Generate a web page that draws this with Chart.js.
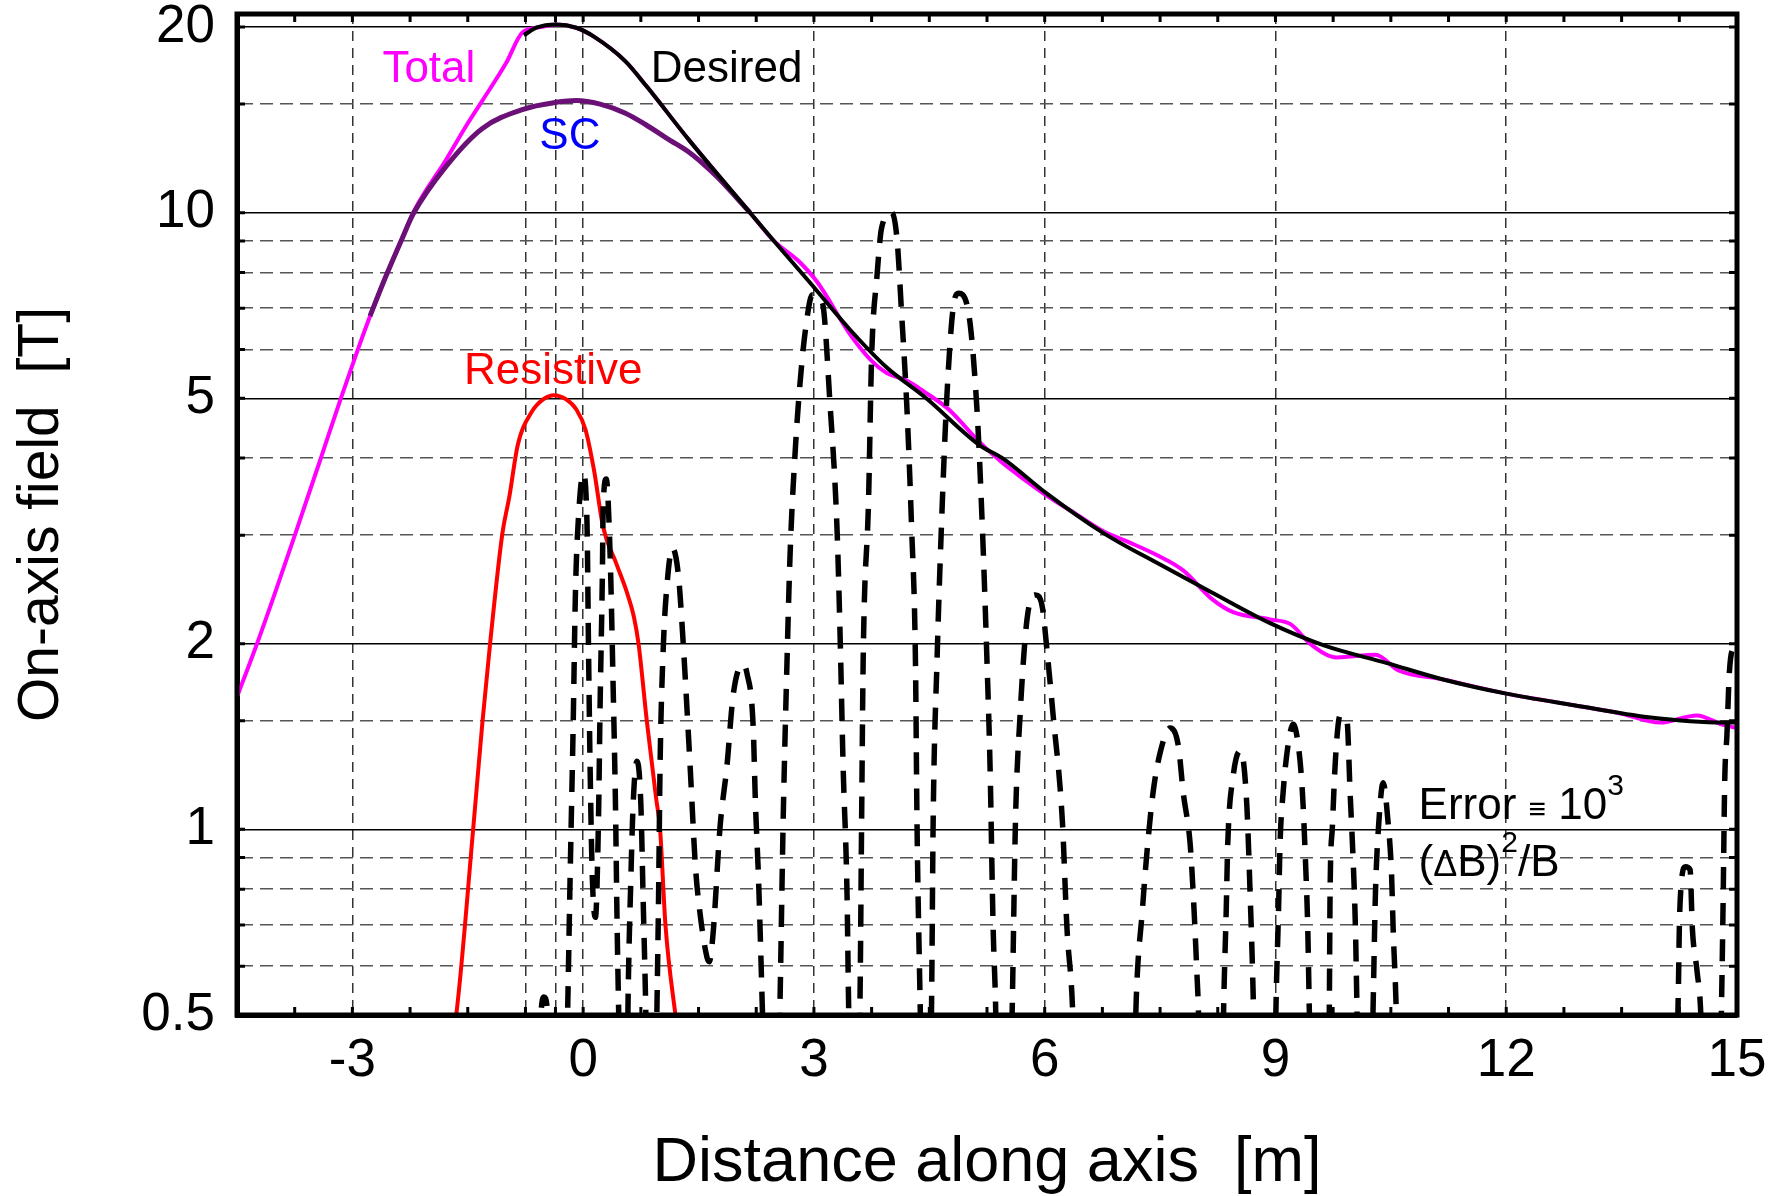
<!DOCTYPE html>
<html>
<head>
<meta charset="utf-8">
<script src="https://cdn.jsdelivr.net/npm/chart.js@4.4.1/dist/chart.umd.min.js"></script>
<style>
  html, body { margin: 0; padding: 0; background: #fff; }
  #wrap { width: 1786px; height: 1196px; }
</style>
</head>
<body>
<div id="wrap"><canvas id="cv" width="1786" height="1196"></canvas></div>
<script>
/* global Chart */
const FONT = "'Liberation Sans', Arial, sans-serif";

// Total field (magenta)
const totalX = [-4.5, -4.24, -4.0, -3.74, -3.41, -3.15, -2.96, -2.77, -2.59, -2.35, -2.21, -1.78, -1.51, -1.31, -1.0, -0.79, -0.55, -0.35, -0.09, 0.14, 0.55, 0.83, 1.38, 2.17, 2.48, 2.8, 3.05, 3.47, 3.75, 3.94, 4.2, 4.46, 4.75, 5.15, 5.45, 5.75, 6.02, 6.4, 6.77, 7.1, 7.47, 7.8, 8.18, 8.45, 8.93, 9.2, 9.45, 9.8, 10.3, 10.6, 11.18, 12.0, 12.88, 13.5, 14.0, 14.48, 14.8, 15.0];
const totalY = [1.64, 2.0, 2.43, 3.02, 4.0, 5.0, 5.85, 6.8, 7.75, 9.1, 10.0, 12.2, 13.9, 15.2, 17.5, 19.6, 20.0, 20.2, 19.95, 19.3, 17.6, 16.0, 13.1, 10.0, 9.0, 8.35, 7.7, 6.35, 5.75, 5.5, 5.35, 5.1, 4.8, 4.25, 3.93, 3.68, 3.48, 3.25, 3.04, 2.92, 2.78, 2.63, 2.36, 2.25, 2.19, 2.15, 2.0, 1.9, 1.92, 1.81, 1.75, 1.66, 1.59, 1.54, 1.49, 1.53, 1.48, 1.46];

// Superconducting contribution (purple)
const scX = [-2.77, -2.59, -2.35, -2.21, -1.78, -1.31, -0.79, -0.35, -0.09, 0.22, 0.55, 0.81, 1.13, 1.35, 1.56, 1.75, 2.17];
const scY = [6.8, 7.75, 9.1, 9.95, 11.9, 13.7, 14.7, 15.1, 15.2, 15.0, 14.5, 13.9, 13.1, 12.6, 12.0, 11.4, 10.0];

// Desired profile (black)
const desiredX = [-0.77, -0.61, -0.35, -0.09, 0.14, 0.55, 0.83, 1.38, 2.17, 2.48, 2.95, 3.47, 3.94, 4.46, 5.15, 5.45, 6.02, 6.77, 7.47, 8.18, 8.93, 9.62, 10.45, 11.18, 12.0, 12.88, 13.85, 14.82, 15.0];
const desiredY = [19.4, 19.95, 20.2, 19.95, 19.3, 17.6, 16.0, 13.1, 10.0, 9.0, 7.7, 6.46, 5.62, 5.0, 4.2, 4.0, 3.51, 3.02, 2.70, 2.42, 2.16, 1.99, 1.86, 1.75, 1.66, 1.59, 1.52, 1.49, 1.49];

// Resistive insert (red)
const resistiveX = [-1.72, -1.65, -1.43, -1.31, -1.21, -1.05, -0.96, -0.85, -0.67, -0.52, -0.38, -0.22, -0.09, 0.03, 0.14, 0.26, 0.43, 0.57, 0.66, 0.72, 0.83, 0.95, 1.0, 1.07, 1.2, 1.25];
const resistiveY = [0.45, 0.5, 1.0, 1.49, 2.0, 3.02, 3.46, 4.2, 4.75, 4.98, 5.06, 4.98, 4.8, 4.45, 3.83, 3.09, 2.70, 2.42, 2.21, 2.0, 1.49, 1.12, 1.0, 0.70, 0.5, 0.45];

// Error = 1e3 (dB)^2/B (black dashed)
const errorX = [
  -0.62, -0.55, -0.51, -0.46, -0.40,
  -0.24, -0.20, -0.17, -0.13, -0.10, -0.06, 0.0, 0.05, 0.07, 0.09, 0.12,
  0.16,
  0.20, 0.22, 0.25, 0.26, 0.30, 0.35, 0.39, 0.42, 0.44, 0.46, 0.50,
  0.56, 0.585, 0.62, 0.65, 0.70, 0.75, 0.78, 0.81, 0.85,
  0.93, 0.96, 0.98, 1.0, 1.04, 1.09, 1.16, 1.24, 1.30, 1.39, 1.46, 1.52, 1.61,
  1.64,
  1.69, 1.78, 1.87, 1.95, 2.07, 2.13, 2.21, 2.24, 2.28, 2.33, 2.38,
  2.52, 2.56, 2.60, 2.65, 2.69, 2.76, 2.82, 2.89, 2.98, 3.11, 3.21, 3.30, 3.34, 3.38, 3.43, 3.45, 3.49,
  3.56, 3.60, 3.62, 3.64, 3.71, 3.75, 3.82, 3.88, 4.01, 4.08, 4.14, 4.21, 4.27, 4.32, 4.34, 4.38, 4.42,
  4.50, 4.53, 4.55, 4.60, 4.67, 4.73, 4.81, 4.88, 5.0, 5.12, 5.19, 5.25, 5.29, 5.33, 5.36, 5.40,
  5.54, 5.58, 5.62, 5.68, 5.77, 5.88, 5.97, 6.03, 6.11, 6.23, 6.29, 6.36, 6.42,
  7.14, 7.19, 7.27, 7.33, 7.41, 7.50, 7.63, 7.74, 7.80, 7.89, 7.93, 7.98, 8.0, 8.03,
  8.29, 8.33, 8.36, 8.38, 8.45, 8.54, 8.58, 8.63, 8.67, 8.71, 8.75,
  8.97, 9.01, 9.04, 9.06, 9.10, 9.16, 9.23, 9.30, 9.35, 9.39, 9.42, 9.44, 9.48,
  9.66, 9.70, 9.71, 9.74, 9.78, 9.84, 9.93, 9.97, 10.01, 10.04, 10.06, 10.10,
  10.23, 10.27, 10.30, 10.34, 10.40, 10.46, 10.51, 10.53, 10.57, 10.61,
  14.18, 14.24, 14.25, 14.27, 14.33, 14.39, 14.42, 14.48, 14.53, 14.58,
  14.76, 14.80, 14.82, 14.84, 14.87, 14.90, 14.96, 15.0
];
const errorY = [
  0.3, 0.5, 0.535, 0.5, 0.3,
  0.3, 0.52, 0.83, 1.47, 2.43, 3.22, 3.77, 3.14, 1.95, 1.27, 0.83,
  0.72,
  1.05, 1.58, 2.60, 3.32, 3.70, 2.80, 1.70, 1.10, 0.72, 0.52, 0.3,
  0.3, 0.54, 0.83, 1.10, 1.29, 1.10, 0.77, 0.54, 0.3,
  0.3, 0.52, 0.77, 1.27, 1.95, 2.49, 2.86, 2.57, 2.01, 1.27, 0.87, 0.73, 0.62,
  0.61,
  0.68, 1.01, 1.27, 1.65, 1.85, 1.79, 1.47, 1.10, 0.83, 0.51, 0.3,
  0.3, 0.53, 1.03, 1.87, 2.79, 4.17, 5.30, 6.46, 7.36, 7.14, 4.88, 3.08, 2.07, 1.26, 0.79, 0.53, 0.3,
  0.3, 0.54, 1.03, 1.87, 3.41, 5.84, 7.90, 9.45, 10.0, 9.07, 6.86, 4.79, 3.08, 1.87, 1.03, 0.53, 0.3,
  0.3, 0.53, 1.03, 1.87, 3.41, 5.08, 7.01, 7.4, 7.0, 4.79, 3.08, 1.87, 1.26, 0.69, 0.53, 0.3,
  0.3, 0.53, 1.03, 1.53, 2.19, 2.40, 2.29, 1.95, 1.53, 1.03, 0.69, 0.52, 0.3,
  0.3, 0.53, 0.74, 0.92, 1.15, 1.33, 1.46, 1.36, 1.15, 0.95, 0.79, 0.58, 0.5, 0.3,
  0.3, 0.54, 0.74, 0.95, 1.22, 1.34, 1.30, 1.08, 0.79, 0.54, 0.3,
  0.3, 0.54, 0.74, 0.95, 1.15, 1.36, 1.48, 1.36, 1.15, 0.89, 0.69, 0.51, 0.3,
  0.3, 0.51, 0.79, 1.01, 1.30, 1.53, 1.50, 1.15, 0.89, 0.69, 0.51, 0.3,
  0.3, 0.52, 0.79, 1.01, 1.19, 1.04, 0.84, 0.69, 0.51, 0.3,
  0.3, 0.57, 0.69, 0.80, 0.87, 0.86, 0.69, 0.59, 0.5, 0.3,
  0.3, 0.53, 0.77, 1.19, 1.43, 1.79, 1.98, 2.0
];

// axes
const xTickVals = [-3.75, -3, -2.25, -1.5, -0.75, -0.36, 0, 0.75, 1.5, 2.25, 3, 3.75, 4.5, 5.25, 6, 6.75, 7.5, 8.25, 9, 9.75, 10.5, 11.25, 12, 12.75, 13.5, 14.25, 15];
const xGridVals = [-3, -0.75, -0.36, 0, 3, 6, 9, 12];
const xLabelVals = [-3, 0, 3, 6, 9, 12, 15];
const yTickVals = [0.5, 0.6, 0.7, 0.8, 0.9, 1, 1.5, 2, 3, 4, 5, 6, 7, 8, 9, 10, 15, 20];
const ySolidVals = [1, 2, 5, 10, 20];
const yLabelVals = [0.5, 1, 2, 5, 10, 20];

// in-plot labels, placed in data coordinates
const notes = [
  { x: -2.61, y: 16.3, color: '#ff00ff', parts: [['Total', 44, 0]] },
  { x: 0.88, y: 16.3, color: '#000000', parts: [['Desired', 44, 0]] },
  { x: -0.57, y: 12.7, color: '#0000ff', parts: [['SC', 44, 0]] },
  { x: -1.55, y: 5.27, color: '#ff0000', parts: [['Resistive', 44, 0]] },
  { x: 10.86, y: 1.04, color: '#000000', parts: [['Error ', 44, 0], ['\u2261', 30, 0], [' 10', 44, 0], ['3', 30, -24]] },
  { x: 10.86, y: 0.84, color: '#000000', parts: [['(', 44, 0], ['\u0394', 36, 0], ['B)', 44, 0], ['2', 30, -24], ['/B', 44, 0]] }
];

const has = (list, v) => list.some(g => Math.abs(g - v) < 1e-6);
const pts = (xs, ys) => xs.map((x, i) => ({ x, y: ys[i] }));

const frame = {
  id: 'frame',
  afterDatasetsDraw(chart) {
    const { ctx, chartArea: a, scales } = chart;
    ctx.save();
    ctx.strokeStyle = '#000';
    // inward tick marks
    ctx.lineWidth = 3;
    xTickVals.forEach(v => {
      const px = scales.x.getPixelForValue(v);
      ctx.beginPath();
      ctx.moveTo(px, a.bottom); ctx.lineTo(px, a.bottom - 8);
      ctx.moveTo(px, a.top); ctx.lineTo(px, a.top + 8);
      ctx.stroke();
    });
    yTickVals.forEach(v => {
      const py = scales.y.getPixelForValue(v);
      ctx.beginPath();
      ctx.moveTo(a.left, py); ctx.lineTo(a.left + 8, py);
      ctx.moveTo(a.right, py); ctx.lineTo(a.right - 8, py);
      ctx.stroke();
    });
    ctx.lineWidth = 5;
    ctx.strokeRect(a.left, a.top, a.right - a.left, a.bottom - a.top);

    // text labels
    ctx.textBaseline = 'alphabetic';
    ctx.textAlign = 'left';
    notes.forEach(n => {
      let px = scales.x.getPixelForValue(n.x);
      const py = scales.y.getPixelForValue(n.y);
      ctx.fillStyle = n.color;
      n.parts.forEach(([t, size, dy]) => {
        ctx.font = size + 'px ' + FONT;
        ctx.fillText(t, px, py + dy);
        px += ctx.measureText(t).width;
      });
    });
    ctx.restore();
  }
};

const line = (label, xs, ys, color, width, order, extra) => Object.assign({
  label, data: pts(xs, ys), showLine: true, borderColor: color, backgroundColor: color,
  borderWidth: width, pointRadius: 0, fill: false, cubicInterpolationMode: 'monotone', order
}, extra || {});

new Chart(document.getElementById('cv'), {
  type: 'scatter',
  data: {
    datasets: [
      line('Error', errorX, errorY, '#000000', 5.5, 0, { borderDash: [22, 14] }),
      line('Desired', desiredX, desiredY, '#000000', 4, 1),
      line('SC', scX, scY, '#6b1077', 5, 2),
      line('Total', totalX, totalY, '#ff00ff', 4, 3),
      line('Resistive', resistiveX, resistiveY, '#ff0000', 4, 4)
    ]
  },
  options: {
    responsive: false,
    devicePixelRatio: 1,
    animation: false,
    layout: { padding: { left: 0, right: 49, top: 14, bottom: 0 } },
    plugins: { legend: { display: false }, tooltip: { enabled: false } },
    scales: {
      x: {
        type: 'linear', min: -4.5, max: 15, bounds: 'data',
        afterBuildTicks: s => { s.ticks = xTickVals.map(v => ({ value: v })); },
        afterFit: s => { s.height = 181; s.paddingLeft = 0; s.paddingRight = 0; },
        grid: {
          drawTicks: false, lineWidth: 1.5,
          color: c => (c.tick && has(xGridVals, c.tick.value)) ? '#333' : 'rgba(0,0,0,0)'
        },
        border: { display: true, color: '#000', width: 5, dash: c => (c.tick ? [10, 7] : []) },
        ticks: {
          autoSkip: false, maxRotation: 0, padding: 15, color: '#000',
          font: { family: FONT, size: 53 },
          callback: v => has(xLabelVals, v) ? String(v) : ''
        },
        title: {
          display: true, text: 'Distance along axis  [m]', color: '#000',
          font: { family: FONT, size: 63, lineHeight: 1 }, padding: { top: 0, bottom: 1 }
        }
      },
      y: {
        type: 'logarithmic', min: 0.5, max: 21,
        afterBuildTicks: s => { s.ticks = yTickVals.map(v => ({ value: v })); },
        afterFit: s => { s.width = 237; s.paddingTop = 0; s.paddingBottom = 0; },
        grid: {
          drawTicks: false, lineWidth: 1.5,
          color: c => {
            if (!c.tick || c.tick.value === 0.5) return 'rgba(0,0,0,0)';
            return has(ySolidVals, c.tick.value) ? '#000' : '#555';
          }
        },
        border: {
          display: true, color: '#000', width: 5,
          dash: c => (c.tick && !has(ySolidVals, c.tick.value)) ? [13, 7] : []
        },
        ticks: {
          autoSkip: false, padding: 22, color: '#000',
          font: { family: FONT, size: 53 },
          callback: v => has(yLabelVals, v) ? String(v) : ''
        },
        title: {
          display: true, text: 'On-axis field  [T]', color: '#000',
          font: { family: FONT, size: 57 }, padding: { top: 8, bottom: 0 }
        }
      }
    }
  },
  plugins: [frame]
});
</script>
</body>
</html>
